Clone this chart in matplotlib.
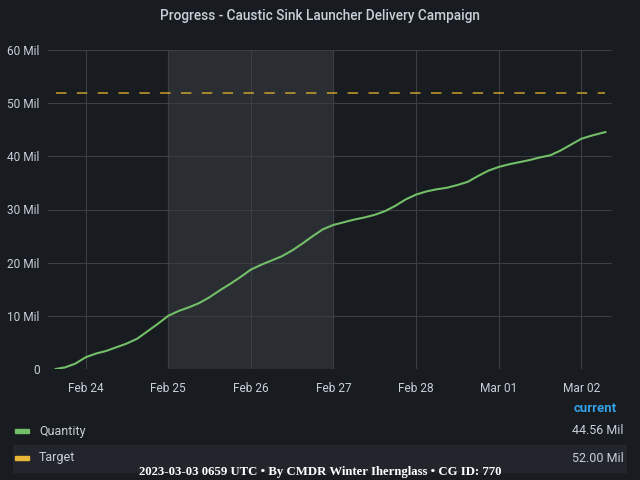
import numpy as np
import pandas as pd
import matplotlib
matplotlib.use("Agg")
import matplotlib.pyplot as plt
import matplotlib.dates as mdates
from matplotlib.patches import Rectangle
from matplotlib.ticker import FuncFormatter

# data (values in Mil)
times = pd.to_datetime([
    "2023-02-23 15:20", "2023-02-23 18:00", "2023-02-23 21:00",
    "2023-02-24 00:00", "2023-02-24 03:00", "2023-02-24 06:00", "2023-02-24 09:00",
    "2023-02-24 12:00", "2023-02-24 15:00", "2023-02-24 18:00", "2023-02-24 21:00",
    "2023-02-25 00:00", "2023-02-25 03:00", "2023-02-25 06:00", "2023-02-25 09:00",
    "2023-02-25 12:00", "2023-02-25 15:00", "2023-02-25 18:00", "2023-02-25 21:00",
    "2023-02-26 00:00", "2023-02-26 03:00", "2023-02-26 06:00", "2023-02-26 09:00",
    "2023-02-26 12:00", "2023-02-26 15:00", "2023-02-26 18:00", "2023-02-26 21:00",
    "2023-02-27 00:00", "2023-02-27 03:00", "2023-02-27 06:00", "2023-02-27 09:00",
    "2023-02-27 12:00", "2023-02-27 15:00", "2023-02-27 18:00", "2023-02-27 21:00",
    "2023-02-28 00:00", "2023-02-28 03:00", "2023-02-28 06:00", "2023-02-28 09:00",
    "2023-02-28 12:00", "2023-02-28 15:00", "2023-02-28 18:00", "2023-02-28 21:00",
    "2023-03-01 00:00", "2023-03-01 03:00", "2023-03-01 06:00", "2023-03-01 09:00",
    "2023-03-01 12:00", "2023-03-01 15:00", "2023-03-01 18:00", "2023-03-01 21:00",
    "2023-03-02 00:00", "2023-03-02 03:00", "2023-03-02 06:00", "2023-03-02 07:00",
])
quantity = [
    0.0, 0.3, 1.0,
    2.2, 2.9, 3.4, 4.1, 4.8, 5.7, 7.1, 8.5,
    10.0, 10.9, 11.6, 12.4, 13.5, 14.8, 16.0, 17.3,
    18.7, 19.6, 20.4, 21.2, 22.3, 23.6, 25.0, 26.3,
    27.1, 27.6, 28.1, 28.5, 29.0, 29.7, 30.7, 31.9,
    32.8, 33.4, 33.8, 34.1, 34.6, 35.2, 36.3, 37.3,
    38.0, 38.5, 38.9, 39.3, 39.8, 40.2, 41.1, 42.2,
    43.3, 43.9, 44.4, 44.56,
]
target = [52.0] * len(times)
highlight = pd.to_datetime(["2023-02-25 00:00", "2023-02-27 00:00"])
xlim = pd.to_datetime(["2023-02-23 13:05", "2023-03-02 08:55"])

bg = "#181b1f"
txt = "#c7d0d9"
green = "#73bf69"
yellow = "#c9a02a"

plt.rcParams["font.family"] = ["Roboto", "DejaVu Sans"]
plt.rcParams["lines.scale_dashes"] = False

fig = plt.figure(figsize=(6.4, 4.8), dpi=100, facecolor=bg)
ax = fig.add_axes([48 / 640, 1 - 369 / 480, 564 / 640, 319 / 480])
ax.set_facecolor(bg)

ax.axvspan(highlight[0], highlight[1], color="#2a2d32", zorder=0)
ax.plot(times, target, color=yellow, lw=1.1, dashes=(7.5, 7.5), zorder=3)
ax.plot(times, quantity, color=green, lw=1.5, zorder=4)

ax.set_ylim(0, 60)
ax.set_yticks(range(0, 61, 10))
ax.set_xlim(xlim[0], xlim[1])
ax.xaxis.set_major_locator(mdates.DayLocator())
ax.xaxis.set_major_formatter(mdates.DateFormatter("%b %d"))
ax.yaxis.set_major_formatter(FuncFormatter(lambda v, p: "0" if v == 0 else f"{v:.0f} Mil"))
ax.grid(True, color="#3b3e43", lw=0.8)
ax.set_axisbelow(True)
for s in ax.spines.values():
    s.set_visible(False)
ax.tick_params(length=0, colors=txt, labelsize=8.6, pad=6)
ax.tick_params(axis="x", pad=9)

fig.text(0.5, 1 - 16 / 480, "Progress - Caustic Sink Launcher Delivery Campaign",
         ha="center", va="center", color=txt, fontsize=9.8, fontweight="medium")

# legend table
fig.patches.append(Rectangle((13 / 640, 1 - 472 / 480), 613 / 640, 27 / 480,
                             transform=fig.transFigure, color="#22252b", zorder=0))
fig.text(617 / 640, 1 - 408 / 480, "current", ha="right", va="center",
         color="#33a2e5", fontsize=9.5, fontweight="bold")
rows = [("Quantity", green, quantity[-1], 431), ("Target", "#eab839", target[-1], 458)]
for name, col, val, yy in rows:
    y = 1 - yy / 480
    fig.patches.append(Rectangle((15 / 640, y - 2 / 480), 14 / 640, 4 / 480,
                                 transform=fig.transFigure, color=col))
    fig.text(39 / 640, y, name, ha="left", va="center", color=txt, fontsize=9)
    fig.text(624 / 640, y, f"{val:.2f} Mil", ha="right", va="center", color=txt, fontsize=9)

fig.text(0.5, 1 - 472 / 480, "2023-03-03 0659 UTC \u2022 By CMDR Winter Ihernglass \u2022 CG ID: 770",
         ha="center", va="center", color="white", fontsize=9.2,
         fontweight="bold", family=["Liberation Serif", "DejaVu Serif"])

fig.savefig("out.png", dpi=100, facecolor=bg)
